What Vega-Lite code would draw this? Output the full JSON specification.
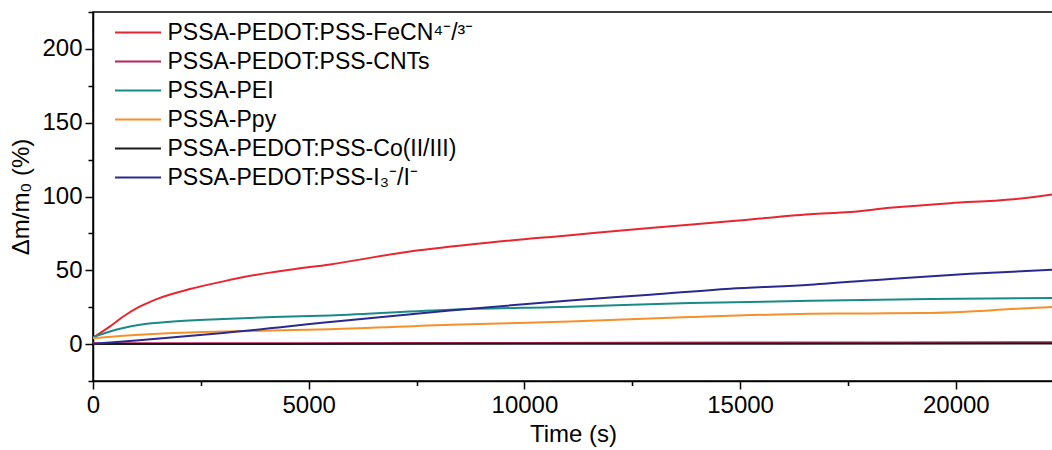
{
  "$schema": "https://vega.github.io/schema/vega-lite/v6.json",
  "autosize": {"type": "none"},
  "width": 960,
  "height": 369,
  "padding": {"left": 93, "top": 12, "right": 0, "bottom": 69},
  "background": "white",
  "config": {
    "font": "Liberation Sans",
    "view": {"stroke": "#000", "strokeWidth": 1.5},
    "axis": {"domainColor": "#000", "domainWidth": 1.5, "tickColor": "#000", "tickWidth": 1.5, "labelColor": "#000", "titleColor": "#000", "labelFont": "Liberation Sans", "titleFont": "Liberation Sans", "labelFontSize": 24, "titleFontSize": 24, "titleFontWeight": "normal", "grid": false}
  },
  "data": {"values": [
    {"s": "FeCN", "t": 0, "v": 4.3},
    {"s": "FeCN", "t": 394, "v": 12},
    {"s": "FeCN", "t": 702, "v": 18.7},
    {"s": "FeCN", "t": 1090, "v": 25.5},
    {"s": "FeCN", "t": 1476, "v": 30.5},
    {"s": "FeCN", "t": 2248, "v": 37.3},
    {"s": "FeCN", "t": 3020, "v": 42.5},
    {"s": "FeCN", "t": 3794, "v": 47},
    {"s": "FeCN", "t": 4566, "v": 50.4},
    {"s": "FeCN", "t": 5494, "v": 54},
    {"s": "FeCN", "t": 7348, "v": 62.8},
    {"s": "FeCN", "t": 9202, "v": 68.9},
    {"s": "FeCN", "t": 11057, "v": 73.8},
    {"s": "FeCN", "t": 12911, "v": 78.7},
    {"s": "FeCN", "t": 14766, "v": 83.2},
    {"s": "FeCN", "t": 16620, "v": 88},
    {"s": "FeCN", "t": 17548, "v": 89.5},
    {"s": "FeCN", "t": 18475, "v": 92.3},
    {"s": "FeCN", "t": 19866, "v": 95.5},
    {"s": "FeCN", "t": 21257, "v": 97.9},
    {"s": "FeCN", "t": 22253, "v": 101.5},
    {"s": "CNTs", "t": 0, "v": 0.5},
    {"s": "CNTs", "t": 5000, "v": 0.6},
    {"s": "CNTs", "t": 10000, "v": 0.8},
    {"s": "CNTs", "t": 15000, "v": 1.0},
    {"s": "CNTs", "t": 22253, "v": 1.3},
    {"s": "PEI", "t": 0, "v": 4.7},
    {"s": "PEI", "t": 394, "v": 8.5},
    {"s": "PEI", "t": 702, "v": 10.9},
    {"s": "PEI", "t": 1090, "v": 13.1},
    {"s": "PEI", "t": 1862, "v": 15.3},
    {"s": "PEI", "t": 3020, "v": 17},
    {"s": "PEI", "t": 4180, "v": 18.3},
    {"s": "PEI", "t": 5494, "v": 19.4},
    {"s": "PEI", "t": 8275, "v": 23.3},
    {"s": "PEI", "t": 11057, "v": 25.3},
    {"s": "PEI", "t": 13839, "v": 27.8},
    {"s": "PEI", "t": 16620, "v": 29.3},
    {"s": "PEI", "t": 19402, "v": 30.5},
    {"s": "PEI", "t": 22253, "v": 31.2},
    {"s": "Ppy", "t": 0, "v": 4},
    {"s": "Ppy", "t": 702, "v": 5.6},
    {"s": "Ppy", "t": 1862, "v": 7.5},
    {"s": "Ppy", "t": 3020, "v": 8.5},
    {"s": "Ppy", "t": 4180, "v": 9.2},
    {"s": "Ppy", "t": 5494, "v": 10},
    {"s": "Ppy", "t": 8275, "v": 13.1},
    {"s": "Ppy", "t": 11057, "v": 15.3},
    {"s": "Ppy", "t": 13839, "v": 18.3},
    {"s": "Ppy", "t": 16620, "v": 20.5},
    {"s": "Ppy", "t": 18000, "v": 20.8},
    {"s": "Ppy", "t": 19240, "v": 21},
    {"s": "Ppy", "t": 20330, "v": 22.1},
    {"s": "Ppy", "t": 21257, "v": 23.7},
    {"s": "Ppy", "t": 22253, "v": 25.1},
    {"s": "Co", "t": 0, "v": 0},
    {"s": "Co", "t": 11000, "v": 0.2},
    {"s": "Co", "t": 22253, "v": 0.4},
    {"s": "I3", "t": 0, "v": 0.2},
    {"s": "I3", "t": 1000, "v": 2.5},
    {"s": "I3", "t": 3020, "v": 7.5},
    {"s": "I3", "t": 5494, "v": 14.9},
    {"s": "I3", "t": 8275, "v": 22.8},
    {"s": "I3", "t": 11057, "v": 29.6},
    {"s": "I3", "t": 12911, "v": 33.4},
    {"s": "I3", "t": 14766, "v": 37.5},
    {"s": "I3", "t": 16620, "v": 40.2},
    {"s": "I3", "t": 18475, "v": 44.1},
    {"s": "I3", "t": 20330, "v": 47.7},
    {"s": "I3", "t": 22253, "v": 50.4}
  ]},
  "mark": {"type": "line", "strokeWidth": 2, "clip": true, "interpolate": "monotone"},
  "encoding": {
    "x": {
      "field": "t", "type": "quantitative",
      "scale": {"domain": [0, 22253], "nice": false, "zero": false},
      "axis": {
        "title": "Time (s)",
        "values": [0, 2500, 5000, 7500, 10000, 12500, 15000, 17500, 20000],
        "labelExpr": "datum.value % 5000 === 0 ? datum.label : ''",
        "format": "d",
        "tickSize": {"condition": {"test": "datum.value % 5000 === 0", "value": 8}, "value": 4.5},
        "labelPadding": 4,
        "titlePadding": 5,
        "labelFlush": false
      }
    },
    "y": {
      "field": "v", "type": "quantitative",
      "scale": {"domain": [-25, 225], "nice": false, "zero": false},
      "axis": {
        "title": "Δm/m₀ (%)",
        "values": [-25, 0, 25, 50, 75, 100, 125, 150, 175, 200, 225],
        "labelExpr": "datum.value % 50 === 0 && datum.value <= 200 ? datum.label : ''",
        "tickSize": {"condition": {"test": "datum.value % 50 === 0", "value": 8}, "value": 5},
        "labelPadding": 3,
        "titlePadding": 8,
        "labelFlush": false
      }
    },
    "color": {
      "field": "s", "type": "nominal",
      "scale": {
        "domain": ["FeCN", "CNTs", "PEI", "Ppy", "Co", "I3"],
        "range": ["#e8262f", "#b8235b", "#1a8a86", "#f5902a", "#1a1a1a", "#2a2a8e"]
      },
      "legend": {
        "title": null,
        "orient": "none",
        "legendX": 32.5,
        "legendY": 8,
        "padding": 0,
        "symbolType": "M-2,0H2",
        "symbolSize": 529,
        "symbolStrokeWidth": 2,
        "labelFont": "Liberation Sans",
        "labelFontSize": 23,
        "labelColor": "#000",
        "labelOffset": 17,
        "rowPadding": 4,
        "labelLimit": 0,
        "labelExpr": "{'FeCN': 'PSSA-PEDOT:PSS-FeCN⁴⁻/³⁻', 'CNTs': 'PSSA-PEDOT:PSS-CNTs', 'PEI': 'PSSA-PEI', 'Ppy': 'PSSA-Ppy', 'Co': 'PSSA-PEDOT:PSS-Co(II/III)', 'I3': 'PSSA-PEDOT:PSS-I₃⁻/I⁻'}[datum.value]"
      }
    }
  }
}
